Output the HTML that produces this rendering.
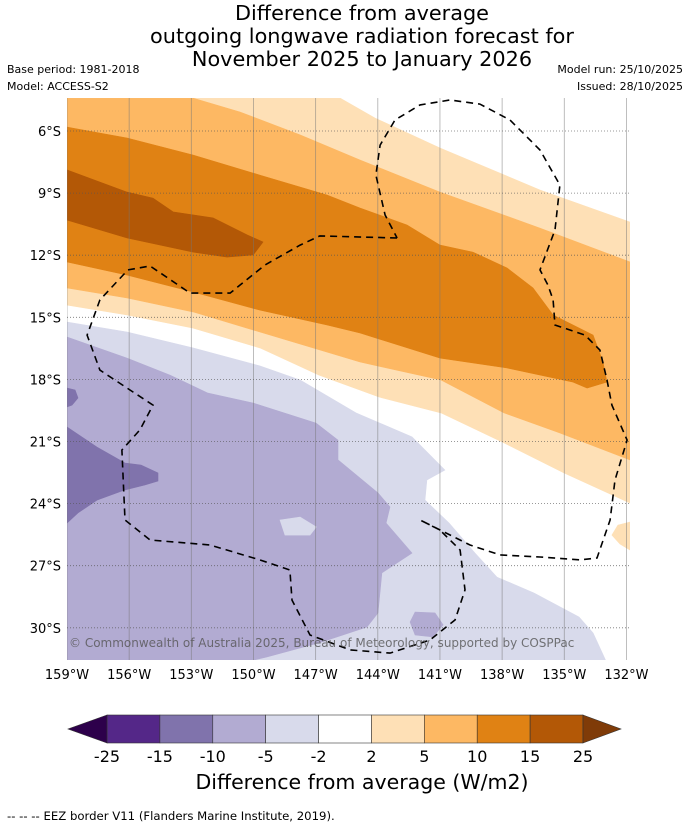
<!DOCTYPE html>
<html><head><meta charset="utf-8">
<style>
html,body{margin:0;padding:0;background:#fff;}
body{width:690px;height:827px;overflow:hidden;font-family:"DejaVu Sans","Liberation Sans",sans-serif;}
svg text{font-family:"DejaVu Sans","Liberation Sans",sans-serif;}
</style></head>
<body>
<svg id="chart" width="690" height="827" viewBox="0 0 690 827" xmlns="http://www.w3.org/2000/svg">
  <g text-anchor="middle" font-size="20.8" fill="#000">
    <text x="362" y="20">Difference from average</text>
    <text x="362" y="43">outgoing longwave radiation forecast for</text>
    <text x="362" y="66">November 2025 to January 2026</text>
  </g>
  <text x="7" y="73" font-size="11">Base period: 1981-2018</text>
  <text x="7" y="90" font-size="11">Model: ACCESS-S2</text>
  <text x="683" y="73" font-size="11" text-anchor="end">Model run: 25/10/2025</text>
  <text x="683" y="90" font-size="11" text-anchor="end">Issued: 28/10/2025</text>
  <defs><clipPath id="mapclip"><rect x="67" y="98" width="563" height="562"/></clipPath></defs>
  <g id="map" clip-path="url(#mapclip)"></g>
  <g id="axes"></g>
  <text x="69" y="647" font-size="12" fill="#555" fill-opacity="0.8">© Commonwealth of Australia 2025, Bureau of Meteorology, supported by COSPPac</text>
  <g id="colorbar"></g>
  <text x="362" y="789" font-size="20.5" text-anchor="middle">Difference from average (W/m2)</text>
  <text x="7" y="820" font-size="11.7">--  --  -- EEZ border V11 (Flanders Marine Institute, 2019).</text>
</svg>
<script>
// ---- data (lon, lat in degrees) ----
const lonTicks = [-159,-156,-153,-150,-147,-144,-141,-138,-135,-132];
const latTicks = [-6,-9,-12,-15,-18,-21,-24,-27,-30];
const cbLevels = [-25,-15,-10,-5,-2,2,5,10,15,25];
const cbColors = ["#542788","#8073ac","#b2abd2","#d8daeb","#ffffff","#fee0b6","#fdb863","#e08214","#b35806"];
const contourGe2 = [[-159,-4.41],[-145.82,-4.41],[-144.14,-5.37],[-141,-6.82],[-136.17,-8.85],[-131.83,-10.4],[-131.83,-23.97],[-135.01,-22.52],[-137.91,-21.07],[-140.95,-19.62],[-143.94,-18.85],[-146.84,-17.79],[-149.69,-16.48],[-152.92,-15.52],[-156.1,-14.89],[-159,-14.41]];
const contourGe2Blob = [[-131.83,-24.89],[-132.41,-25.04],[-132.7,-25.52],[-132.31,-25.95],[-131.83,-26.24]];
const contourGe5 = [[-159,-4.41],[-152.92,-4.41],[-150.65,-5.08],[-147.75,-6.19],[-144.86,-7.4],[-141,-8.95],[-136.17,-10.69],[-131.83,-12.33],[-131.83,-21.89],[-135.21,-20.59],[-137.91,-19.62],[-140.95,-18.03],[-144.86,-17.16],[-149.69,-15.71],[-152.92,-14.74],[-156.1,-14.07],[-159,-13.58]];
const contourGe10 = [[-159,-5.81],[-156.1,-6.34],[-152.92,-7.16],[-149.69,-8.13],[-146.45,-9.09],[-144.86,-9.72],[-142.59,-10.54],[-141,-11.51],[-139.41,-11.85],[-137.76,-12.62],[-136.51,-13.58],[-135.54,-14.89],[-133.61,-15.86],[-133.13,-17.16],[-132.94,-18.13],[-133.9,-18.42],[-134.58,-18.13],[-137.76,-17.45],[-141,-16.97],[-144.86,-15.76],[-146.45,-15.37],[-149.69,-14.65],[-152.92,-13.78],[-156.1,-12.96],[-159,-12.33]];
const contourGe15 = [[-159,-7.88],[-156.1,-8.95],[-154.85,-9.24],[-153.88,-9.91],[-151.95,-10.2],[-150.31,-11.02],[-149.54,-11.36],[-150.02,-11.99],[-151.28,-12.09],[-152.92,-11.85],[-156.1,-11.17],[-159,-10.3]];
const contourLeM2 = [[-159,-15.23],[-156.1,-15.71],[-152.92,-16.48],[-149.69,-17.35],[-147.75,-18.03],[-145.05,-19.62],[-142.35,-20.78],[-140.76,-22.38],[-141.63,-22.86],[-141.72,-23.83],[-140.56,-24.94],[-139.31,-26.39],[-138.25,-27.55],[-136.46,-28.32],[-134.29,-29.48],[-133.61,-30.25],[-132.99,-31.6],[-159,-31.6]];
const contourLeM5 = [[-159,-15.95],[-156.1,-16.97],[-154.03,-17.79],[-152.2,-18.66],[-150.02,-19.14],[-146.98,-20.11],[-145.92,-20.93],[-145.92,-21.89],[-143.99,-23.49],[-143.41,-24.16],[-143.6,-24.94],[-142.35,-26.39],[-143.8,-27.35],[-143.99,-29.28],[-144.52,-29.96],[-146.84,-30.73],[-149.35,-31.41],[-150.17,-31.6],[-159,-31.6]];
const contourLeM5Hole = [[-148.72,-24.79],[-147.75,-24.65],[-146.97,-25.13],[-147.27,-25.52],[-148.48,-25.52]];
const contourLeM5Island = [[-142.2,-29.24],[-141.24,-29.28],[-140.85,-29.86],[-141.34,-30.44],[-142.2,-30.35],[-142.44,-29.72]];
const contourLeM10 = [[-159,-20.3],[-157.55,-21.27],[-156.2,-22.04],[-155.43,-22.14],[-154.61,-22.52],[-154.61,-22.91],[-155.24,-23.1],[-156.2,-23.34],[-157.55,-23.83],[-158.47,-24.45],[-159,-24.94]];
const contourLeM10Blob = [[-159,-18.42],[-158.61,-18.51],[-158.47,-18.9],[-158.76,-19.24],[-159,-19.33]];
const eezBorder = [[-143.07,-11.17],[-146.8,-11.07],[-147.75,-11.51],[-149.44,-12.47],[-151.13,-13.83],[-153.06,-13.83],[-154.99,-12.52],[-156.06,-12.71],[-157.41,-14.16],[-158.03,-15.86],[-157.41,-17.55],[-155.96,-18.51],[-154.85,-19.24],[-155.48,-20.44],[-156.35,-21.41],[-156.2,-24.79],[-154.99,-25.76],[-152.1,-26.0],[-149.69,-26.72],[-148.24,-27.21],[-148.14,-28.66],[-147.27,-30.35],[-145.34,-31.07],[-143.41,-31.22],[-141.48,-30.59],[-140.27,-29.62],[-139.79,-28.17],[-140.03,-26.24],[-141,-25.28],[-141.96,-24.79],[-139.55,-26.0],[-138.1,-26.48],[-136.17,-26.58],[-134.24,-26.72],[-133.42,-26.63],[-132.79,-24.79],[-132.55,-22.86],[-131.97,-20.93],[-132.7,-19.24],[-132.94,-18.03],[-133.28,-16.58],[-134,-15.86],[-135.45,-15.37],[-135.54,-14.16],[-135.79,-13.44],[-136.17,-12.71],[-135.45,-10.78],[-135.21,-8.61],[-136.17,-6.92],[-137.62,-5.47],[-139.07,-4.7],[-140.52,-4.5],[-141.96,-4.74],[-143.17,-5.47],[-143.89,-6.68],[-144.09,-8.13],[-143.65,-10.06],[-143.07,-11.17]];

// ---- axis functions ----
const X0=67, PXDEG_X=20.72, Y0=131, PXDEG_Y=20.7;
function xScale(lon){ return X0 + (lon + 159) * PXDEG_X; }
function yScale(lat){ return Y0 + (-lat - 6) * PXDEG_Y; }
const NS='http://www.w3.org/2000/svg';
const map=document.getElementById('map'), axes=document.getElementById('axes'), cb=document.getElementById('colorbar');
function mk(tag, attrs, parent){ const e=document.createElementNS(NS,tag); for(const k in attrs) e.setAttribute(k,attrs[k]); parent.appendChild(e); return e; }
function pts(arr){ return arr.map(p=>xScale(p[0]).toFixed(1)+','+yScale(p[1]).toFixed(1)).join(' '); }

function band(arr, color, name){
  const p=mk('polygon',{points:pts(arr),fill:color,stroke:color,'stroke-width':0.6},map);
  
  
}
band(contourGe2, cbColors[5], 'band-2-to-5');
band(contourGe2Blob, cbColors[5], 'band-2-to-5-southeast');
band(contourGe5, cbColors[6], 'band-5-to-10');
band(contourGe10, cbColors[7], 'band-10-to-15');
band(contourGe15, cbColors[8], 'band-15-to-25');
band(contourLeM2, cbColors[3], 'band-minus5-to-minus2');
band(contourLeM5, cbColors[2], 'band-minus10-to-minus5');
band(contourLeM5Hole, cbColors[3], 'band-minus5-to-minus2-patch');
band(contourLeM5Island, cbColors[2], 'band-minus10-to-minus5-patch');
band(contourLeM10, cbColors[1], 'band-minus15-to-minus10');
band(contourLeM10Blob, cbColors[1], 'band-minus15-to-minus10-patch');

// gridlines
lonTicks.forEach(lon=>{
  const l=mk('line',{x1:xScale(lon),x2:xScale(lon),y1:98,y2:660,stroke:'#777','stroke-width':0.8,'stroke-opacity':0.6},map);
  
  
  const t=mk('text',{x:xScale(lon),y:679,'font-size':13,'text-anchor':'middle'},axes);
  t.textContent=Math.abs(lon)+'°W';
  
  
});
latTicks.forEach(lat=>{
  const l=mk('line',{x1:67,x2:630,y1:yScale(lat),y2:yScale(lat),stroke:'#555','stroke-width':0.8,'stroke-dasharray':'1,2','stroke-opacity':0.8},map);
  
  
  const t=mk('text',{x:61,y:yScale(lat)+5,'font-size':13,'text-anchor':'end'},axes);
  t.textContent=Math.abs(lat)+'°S';
  
  
});

// EEZ border
const eez=mk('polyline',{points:pts(eezBorder),fill:'none',stroke:'#000','stroke-width':1.6,'stroke-dasharray':'7,5'},map);



// colorbar
const CB_X0=107, CB_X1=583, CB_Y=715, CB_H=28;
const segW=(CB_X1-CB_X0)/cbColors.length;
function cbX(i){ return CB_X0 + i*segW; }
cbColors.forEach((c,i)=>{
  const r=mk('rect',{x:cbX(i),y:CB_Y,width:segW,height:CB_H,fill:c,stroke:'#333','stroke-width':0.6},cb);
  
  
});
const tl=mk('polygon',{points:`${CB_X0},${CB_Y} ${CB_X0},${CB_Y+CB_H} 68,${CB_Y+CB_H/2}`,fill:'#2d004b',stroke:'#333','stroke-width':0.6},cb);


const tr=mk('polygon',{points:`${CB_X1},${CB_Y} ${CB_X1},${CB_Y+CB_H} 621,${CB_Y+CB_H/2}`,fill:'#7f3b08',stroke:'#333','stroke-width':0.6},cb);


cbLevels.forEach((v,i)=>{
  const t=mk('text',{x:cbX(i),y:762,'font-size':16,'text-anchor':'middle'},cb);
  t.textContent=String(v);
  
  
});
</script>
</body></html>
